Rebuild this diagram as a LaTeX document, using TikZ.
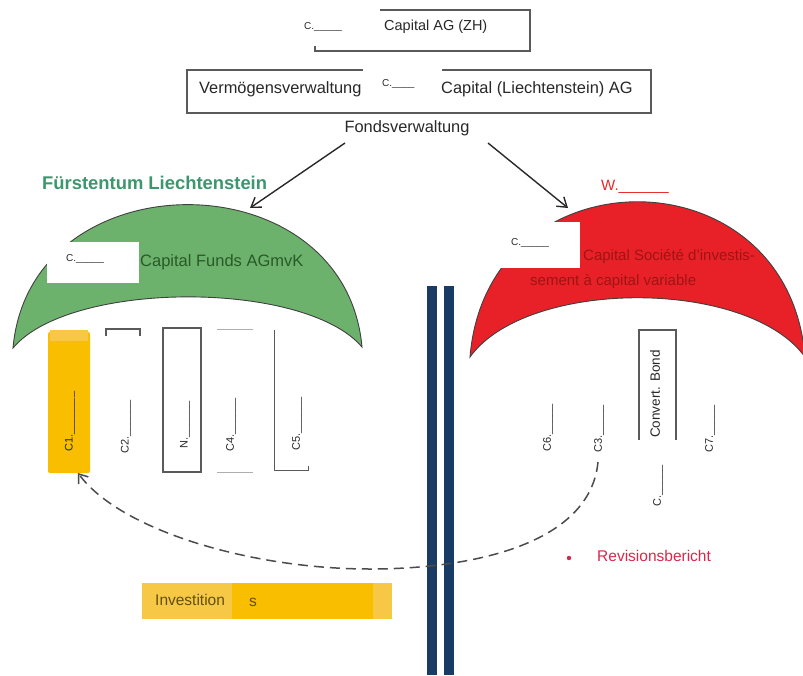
\documentclass[tikz,border=0pt]{standalone}
\usepackage{fontspec}
\setmainfont{Liberation Sans}
\usetikzlibrary{arrows.meta}
\definecolor{crgreen}{RGB}{108,178,108}
\definecolor{crred}{RGB}{232,32,40}
\definecolor{navy}{RGB}{25,60,100}
\definecolor{textdark}{RGB}{40,40,40}
\definecolor{titlegreen}{RGB}{60,150,110}
\definecolor{fundgreen}{RGB}{40,90,40}
\definecolor{sicavred}{RGB}{160,20,20}
\definecolor{wred}{RGB}{230,40,40}
\definecolor{revred}{RGB}{215,40,75}
\definecolor{gold}{RGB}{250,190,0}
\definecolor{paleg}{RGB}{246,200,70}
\definecolor{invtext}{RGB}{100,80,10}
\definecolor{linegrey}{RGB}{90,90,90}
\definecolor{lightgrey}{RGB}{175,175,175}
\begin{document}
\begin{tikzpicture}[x=1pt,y=-1pt,
  txt/.style={inner sep=0pt,font=\fontsize{16.4}{18}\selectfont,text=textdark},
  midtxt/.style={inner sep=0pt,font=\fontsize{14.5}{17}\selectfont,text=textdark},
  small/.style={inner sep=0pt,font=\fontsize{10}{12}\selectfont,text=textdark},
  rotlabel/.style={inner sep=0pt,rotate=90,anchor=west,font=\fontsize{11}{13}\selectfont,text=textdark},
  boxline/.style={draw=linegrey,line width=1.3pt},
  thinline/.style={draw=lightgrey,line width=1pt},
  flowarrow/.style={draw=textdark,line width=1.4pt,-{Straight Barb[length=9pt,width=12pt,line width=1.4pt]}},
  crescent/.style={draw=black!75,line width=0.9pt}]
\useasboundingbox (0,0) rectangle (803,675);
\clip (0,0) rectangle (803,675);
\fill[white] (0,0) rectangle (803,675);

% top box
\draw[boxline] (380,10) -- (530,10) -- (530,51) -- (315,51) -- (315,46);
\node[small,anchor=west] (czh) at (304,27) {C.\_\_\_\_\_};
\node[midtxt,anchor=west] (zh) at (384,27) {Capital AG (ZH)};

% second box
\draw[boxline] (363,70) -- (187,70) -- (187,113) -- (651,113) -- (651,70) -- (442,70);
\node[txt,anchor=west] (vv) at (199,89) {Vermögensverwaltung};
\node[small,anchor=west] (cli) at (382,84) {C.\_\_\_\_};
\node[txt,anchor=west] (li) at (441,89) {Capital (Liechtenstein) AG};
\node[txt] (fv) at (407,128) {Fondsverwaltung};

% arrows
\coordinate (la) at (345,143);
\coordinate (lb) at (250,208);
\coordinate (ra) at (488,143);
\coordinate (rb) at (568,208);
\draw[flowarrow] (la) -- (lb);
\draw[flowarrow] (ra) -- (rb);

% green crescent
\node[inner sep=0pt,anchor=west,font=\fontsize{18.4}{21}\selectfont\bfseries,text=titlegreen] (fl) at (42,183) {Fürstentum Liechtenstein};
\fill[crgreen] (13,348) .. controls (30,157) and (345,157) .. (362,347)
   .. controls (305,280) and (70,280) .. (13,348) -- cycle;
\draw[crescent] (13,348) .. controls (30,157) and (345,157) .. (362,347)
   .. controls (305,280) and (70,280) .. (13,348) -- cycle;
\fill[white] (47,242) rectangle (139,283);
\node[small,anchor=west] (cfu) at (66,259) {C.\_\_\_\_\_};
\node[inner sep=0pt,anchor=west,font=\fontsize{16.5}{19}\selectfont,text=fundgreen] (fund) at (140,262) {Capital Funds AGmvK};

% red crescent
\node[inner sep=0pt,anchor=west,font=\fontsize{15}{18}\selectfont,text=wred] (w) at (601,187) {W.\_\_\_\_\_\_};
\fill[crred] (470,357) .. controls (487,150) and (788,150) .. (805,357)
   .. controls (748,278) and (527,278) .. (470,357) -- cycle;
\draw[crescent] (470,357) .. controls (487,150) and (788,150) .. (805,357)
   .. controls (748,278) and (527,278) .. (470,357) -- cycle;
\fill[white] (490,222) rectangle (580,268);
\node[small,anchor=west] (csi) at (511,243) {C.\_\_\_\_\_};
\node[inner sep=0pt,anchor=west,font=\fontsize{15}{18}\selectfont,text=sicavred] (sic1) at (583,257) {Capital Société d'investis-};
\node[inner sep=0pt,anchor=west,font=\fontsize{15}{18}\selectfont,text=sicavred] (sic2) at (530,282) {sement à capital variable};

% navy bars
\fill[navy] (427,286) rectangle (437,675);
\fill[navy] (444,286) rectangle (454,675);

% left fund boxes
\fill[gold,rounded corners=2pt] (48,332) rectangle (90,473);
\fill[paleg] (50,330) rectangle (88,341);
\node[rotlabel] (c1) at (70,452) {C1.\_\_\_\_\_\_\_};
\draw[boxline] (106,336) -- (106,329) -- (140,329) -- (140,336);
\node[rotlabel] (c2) at (126,454) {C2.\_\_\_\_\_\_};
\draw[boxline] (163,328) rectangle (201,472);
\node[rotlabel] (n) at (185,449) {N.\_\_\_\_\_\_};
\draw[thinline] (217,329) -- (253,329);
\draw[thinline] (217,472) -- (253,472);
\node[rotlabel] (c4) at (231,452) {C4.\_\_\_\_\_\_};
\draw[draw=linegrey,line width=1pt] (274,330) -- (274,470) -- (308,470) -- (308,466);
\node[rotlabel] (c5) at (297,451) {C5.\_\_\_\_\_\_};

% right fund boxes
\node[rotlabel] (c6) at (548,452) {C6.\_\_\_\_\_};
\node[rotlabel] (c3) at (599,453) {C3.\_\_\_\_\_};
\draw[boxline] (639,440) -- (639,330) -- (676,330) -- (676,440);
\node[rotlabel,font=\fontsize{13.5}{16}\selectfont] (cb) at (655,438) {Convert. Bond};
\node[rotlabel] (cx) at (658,507) {C.\_\_\_\_\_};
\node[rotlabel] (c7) at (710,453) {C7.\_\_\_\_\_};

% dashed curve
\coordinate (dstart) at (598,462);
\coordinate (dmid) at (370,569);
\coordinate (atip) at (78,473);
\draw[draw=black!70,line width=1.5pt,dash pattern=on 10pt off 6pt,
      -{Straight Barb[length=8pt,width=12pt,line width=1.5pt]}]
  (dstart) .. controls (590,545) and (470,569) .. (dmid)
  .. controls (250,569) and (120,530) .. (atip);

% revisionsbericht
\fill[revred] (569,558) circle (2.2pt);
\node[inner sep=0pt,anchor=west,font=\fontsize{15.5}{18}\selectfont,text=revred] (rev) at (597,556) {Revisionsbericht};

% investition
\fill[paleg] (142,583) rectangle (392,619);
\fill[gold] (232,583) rectangle (373,619);
\node[inner sep=0pt,anchor=west,font=\fontsize{15.5}{18}\selectfont,text=invtext] (inv) at (155,600) {Investition};
\node[inner sep=0pt,anchor=west,font=\fontsize{15.5}{18}\selectfont,text=invtext] (invs) at (249,602) {s};
\end{tikzpicture}
\end{document}
